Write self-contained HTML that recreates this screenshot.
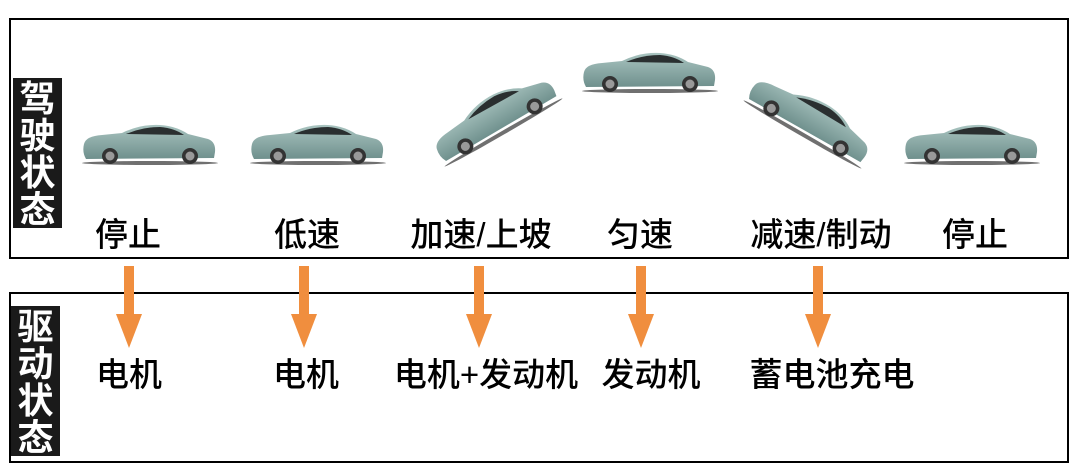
<!DOCTYPE html>
<html><head><meta charset="utf-8"><style>
body{margin:0;width:1080px;height:475px;background:#fff;position:relative;overflow:hidden;font-family:"Liberation Sans","Noto Sans CJK SC",sans-serif}
.box{position:absolute;border:2px solid #000;box-sizing:border-box}
.lab{position:absolute;background:#1a1a1a;color:#fff;font-weight:bold;font-size:36px;line-height:37px;width:49px;text-align:center;box-sizing:border-box;padding-top:2px}
.t{position:absolute;font-size:33px;font-weight:500;color:#000;transform:translateX(-50%);white-space:nowrap;line-height:36px}
.car{position:absolute;width:140px;height:44px}
.arr{position:absolute}
</style></head><body>
<div class="box" style="left:9px;top:18px;width:1060px;height:241px"></div>
<div class="box" style="left:9px;top:292px;width:1060px;height:171px"></div>
<div class="lab" style="left:13px;top:78px;height:150px">驾<br>驶<br>状<br>态</div>
<div class="lab" style="left:11px;top:306px;height:150px">驱<br>动<br>状<br>态</div>
<svg width="0" height="0" style="position:absolute"><defs>
<linearGradient id="bd" x1="0" y1="0" x2="0" y2="1"><stop offset="0" stop-color="#a9c4c0"/><stop offset="1" stop-color="#6f908d"/></linearGradient>
<symbol id="c" viewBox="0 0 140 44">
<ellipse cx="70" cy="41" rx="68" ry="2" fill="#333" opacity=".7"/>
<path d="M4 22 Q6 14 22 13 L42 11 Q60 2 80 3 Q96 4 108 12 L128 17 Q136 20 135 30 L134 36 L6 37 Q2 30 4 22Z" fill="url(#bd)"/>
<path d="M46 12 Q62 5 80 5 Q94 6 104 13Z" fill="#2a2f30"/>
<circle cx="30" cy="34" r="8" fill="#333"/><circle cx="30" cy="34" r="4.5" fill="#999"/>
<circle cx="110" cy="34" r="8" fill="#333"/><circle cx="110" cy="34" r="4.5" fill="#999"/>
</symbol>
<symbol id="a" viewBox="0 0 26 82"><rect x="8" y="0" width="10" height="50" fill="#f08e3e"/><path d="M0 48 L26 48 L13 82Z" fill="#f08e3e"/></symbol>
</defs></svg>
<svg class="car" style="left:80px;top:122px"><use href="#c"/></svg>
<svg class="car" style="left:248px;top:122px"><use href="#c"/></svg>
<svg class="car" style="left:424px;top:94px;transform:rotate(-30deg)"><use href="#c"/></svg>
<svg class="car" style="left:580px;top:50px"><use href="#c"/></svg>
<svg class="car" style="left:742px;top:96px;transform:rotate(30deg)"><use href="#c"/></svg>
<svg class="car" style="left:902px;top:122px"><use href="#c"/></svg>
<div class="t" style="left:128px;top:217px">停止</div>
<div class="t" style="left:307px;top:217px">低速</div>
<div class="t" style="left:481px;top:217px">加速/上坡</div>
<div class="t" style="left:640px;top:217px">匀速</div>
<div class="t" style="left:821px;top:217px">减速/制动</div>
<div class="t" style="left:975px;top:217px">停止</div>
<svg class="arr" style="left:116px;top:266px" width="26" height="82"><use href="#a"/></svg>
<svg class="arr" style="left:291px;top:266px" width="26" height="82"><use href="#a"/></svg>
<svg class="arr" style="left:466px;top:266px" width="26" height="82"><use href="#a"/></svg>
<svg class="arr" style="left:628px;top:266px" width="26" height="82"><use href="#a"/></svg>
<svg class="arr" style="left:805px;top:266px" width="26" height="82"><use href="#a"/></svg>
<div class="t" style="left:129px;top:357px">电机</div>
<div class="t" style="left:306px;top:357px">电机</div>
<div class="t" style="left:486px;top:357px">电机+发动机</div>
<div class="t" style="left:651px;top:357px">发动机</div>
<div class="t" style="left:832px;top:357px">蓄电池充电</div>
</body></html>
